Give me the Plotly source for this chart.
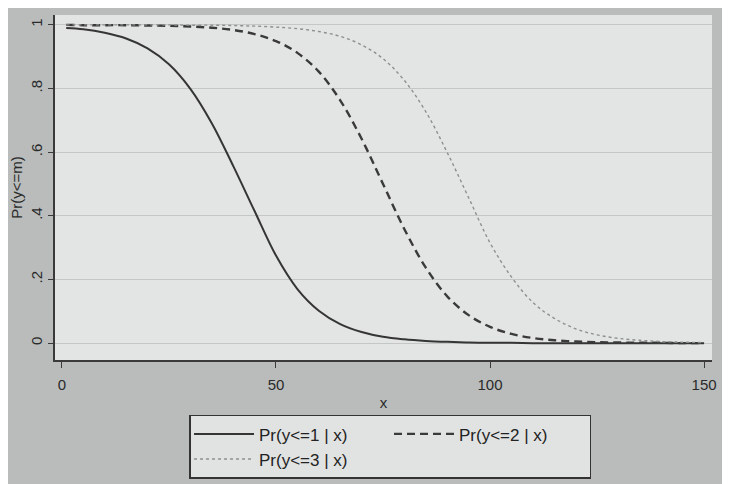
import plotly.graph_objects as go

x_vals = [1, 5, 10, 15, 20, 25, 30, 35, 40, 45, 50, 55, 60, 65, 70, 75, 80, 85, 90,
          95, 100, 105, 110, 115, 120, 125, 130, 135, 140, 145, 150]

pr_le1 = [0.990, 0.986, 0.975, 0.957, 0.926, 0.876, 0.799, 0.691, 0.557, 0.415, 0.275,
          0.170, 0.102, 0.060, 0.035, 0.020, 0.012, 0.007, 0.004, 0.002, 0.001, 0.001,
          0.0, 0.0, 0.0, 0.0, 0.0, 0.0, 0.0, 0.0, 0.0]

pr_le2 = [1.000, 0.999, 0.999, 0.999, 0.998, 0.997, 0.995, 0.991, 0.984, 0.971, 0.949,
          0.912, 0.853, 0.763, 0.642, 0.500, 0.358, 0.237, 0.147, 0.088, 0.051, 0.029,
          0.016, 0.009, 0.005, 0.003, 0.002, 0.001, 0.001, 0.0, 0.0]

pr_le3 = [1.000, 1.000, 1.000, 1.000, 1.000, 1.000, 0.999, 0.999, 0.998, 0.996, 0.993,
          0.988, 0.979, 0.964, 0.937, 0.894, 0.825, 0.727, 0.599, 0.457, 0.315, 0.208,
          0.128, 0.078, 0.045, 0.026, 0.015, 0.009, 0.005, 0.003, 0.002]

series_names = ["Pr(y<=1 | x)", "Pr(y<=2 | x)", "Pr(y<=3 | x)"]
y_ticks = [0, 0.2, 0.4, 0.6, 0.8, 1]
y_tick_labels = ["0", ".2", ".4", ".6", ".8", "1"]
x_ticks = [0, 50, 100, 150]
x_tick_labels = ["0", "50", "100", "150"]

FONT = "Liberation Sans, Arial, sans-serif"

fig = go.Figure()
# legend groups: column 1 = series 1 and 3, column 2 = series 2
fig.add_trace(go.Scatter(x=x_vals, y=pr_le1, mode="lines", name=series_names[0],
                         legendgroup="c1",
                         line=dict(color="#353535", width=2, shape="spline")))
fig.add_trace(go.Scatter(x=x_vals, y=pr_le2, mode="lines", name=series_names[1],
                         legendgroup="c2",
                         line=dict(color="#3a3a3a", width=2.4, dash="8px,5px", shape="spline")))
fig.add_trace(go.Scatter(x=x_vals, y=pr_le3, mode="lines", name=series_names[2],
                         legendgroup="c1",
                         line=dict(color="#8e9090", width=1.4, dash="dot", shape="spline")))

fig.update_layout(
    width=714, height=476,
    margin=dict(l=47, r=5, t=7, b=124),
    paper_bgcolor="#b9bcbb",
    plot_bgcolor="#e3e5e4",
    font=dict(family=FONT, color="#2a2a2a", size=15),
    showlegend=True,
    legend=dict(
        orientation="h",
        x=0.204, xanchor="left",
        y=-0.159, yanchor="top",
        bgcolor="#e1e3e2",
        bordercolor="#333333",
        borderwidth=1.5,
        font=dict(size=17, family=FONT, color="#222"),
        itemwidth=60,
        entrywidth=125,
        tracegroupgap=28,
        traceorder="grouped",
        groupclick="toggleitem",
    ),
    xaxis=dict(
        range=[-1.62, 151.85],
        tickvals=x_ticks, ticktext=x_tick_labels,
        showgrid=False, zeroline=False,
        showline=True, linecolor="#3a3a3a", linewidth=1.5,
        ticks="outside", ticklen=6, tickcolor="#3a3a3a", tickwidth=1.2,
        ticklabelstandoff=4,
        ticklabeloverflow="allow",
        tickfont=dict(size=15),
        title=dict(text="x", font=dict(size=15), standoff=6),
    ),
    yaxis=dict(
        range=[-0.053, 1.031],
        tickvals=y_ticks, ticktext=y_tick_labels,
        tickangle=-90,
        showgrid=True, gridcolor="#c4c7c6", gridwidth=1,
        zeroline=False,
        showline=True, linecolor="#3a3a3a", linewidth=1.5,
        ticks="outside", ticklen=5, tickcolor="#3a3a3a", tickwidth=1.2,
        tickfont=dict(size=15),
        title=dict(text="Pr(y<=m)", font=dict(size=15), standoff=3),
    ),
)

fig.write_html("out.html")
